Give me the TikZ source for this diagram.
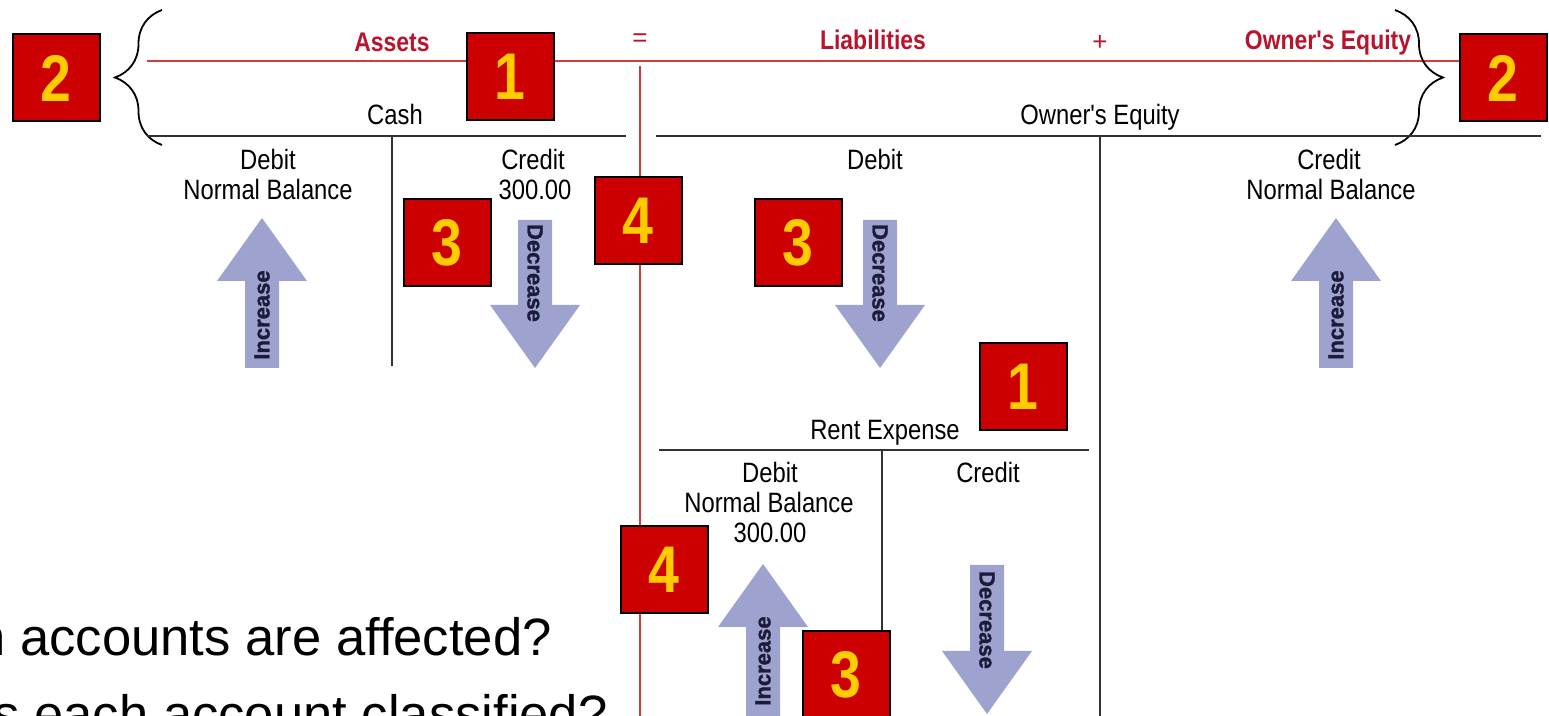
\documentclass[tikz,border=0pt]{standalone}
\usepackage{fontspec}
\setmainfont{Liberation Sans}
\newfontfamily\condfont[FakeStretch=0.85]{Liberation Sans}
\newfontfamily\digitfont[FakeStretch=0.84]{Liberation Sans Bold}
\newfontfamily\heavyfont[FakeBold=1.4]{Liberation Sans Bold}
\usetikzlibrary{decorations.pathreplacing}

\definecolor{boxred}{RGB}{204,0,0}
\definecolor{digityellow}{RGB}{255,204,0}
\definecolor{headred}{RGB}{184,20,45}
\definecolor{linered}{RGB}{212,60,60}
\definecolor{arrowblue}{RGB}{158,162,206}
\definecolor{arrowink}{RGB}{28,28,58}
\definecolor{tgray}{RGB}{50,50,50}

\tikzset{
  numbox/.style={draw=black, line width=1pt, fill=boxred, text=digityellow,
    minimum size=43.5pt, inner sep=0pt,
    font=\digitfont\fontsize{33}{33}\selectfont},
  hdrtext/.style={text=headred, anchor=base, inner sep=0pt,
    font=\condfont\bfseries\fontsize{13.5}{13.5}\selectfont},
  accttext/.style={text=black, anchor=base, inner sep=0pt,
    font=\condfont\fontsize{14}{14}\selectfont},
  arrowtext/.style={text=arrowink, inner sep=0pt,
    font=\heavyfont\fontsize{11}{11}\selectfont},
  question/.style={anchor=base east, inner sep=0pt,
    font=\fontsize{26.3}{26.3}\selectfont},
  redline/.style={draw=linered, line width=1.1pt},
  tline/.style={draw=tgray, line width=1.4pt},
  tstem/.style={draw=tgray, line width=1pt},
  arrowfill/.style={fill=arrowblue},
  bracket/.style={draw=black, line width=0.9pt, decorate},
}

% arrow pointing up: centre x, tip y, tail y
\newcommand{\incarrow}[3]{%
  \fill[arrowfill] (#1,#2) -- (#1+45,#2+63) -- (#1+17,#2+63) -- (#1+17,#3)
    -- (#1-17,#3) -- (#1-17,#2+63) -- (#1-45,#2+63) -- cycle;}
% arrow pointing down: centre x, top y, tip y
\newcommand{\decarrow}[3]{%
  \fill[arrowfill] (#1,#3) -- (#1+45,#3-63) -- (#1+17,#3-63) -- (#1+17,#2)
    -- (#1-17,#2) -- (#1-17,#3-63) -- (#1-45,#3-63) -- cycle;}

\begin{document}
\begin{tikzpicture}[x=0.5pt, y=-0.5pt]
  \useasboundingbox (0,0) rectangle (1549,716);
  %
  % equation line
  \draw[redline] (147,61) -- (1460,61);
  \draw[redline] (640,66) -- (640,716);
  \node[hdrtext] (assets) at (392,52) {Assets};
  \node[text=headred, font=\fontsize{13}{13}\selectfont] (eq) at (640,40) {=};
  \node[hdrtext] (liab) at (873,50) {Liabilities};
  \node[text=headred, font=\fontsize{13}{13}\selectfont] (plus) at (1100,43) {+};
  \node[hdrtext] (equity) at (1328,50) {Owner's Equity};
  %
  % braces
  \draw[bracket, decoration={brace, amplitude=23.5pt}] (162,145) -- (162,10);
  \draw[bracket, decoration={brace, amplitude=24pt}] (1395,10) -- (1395,145);
  %
  % cash account
  \draw[tline] (147,136) -- (626,136);
  \draw[tstem] (392,136) -- (392,366);
  \node[accttext] (cash) at (395,125) {Cash};
  \node[accttext] (cashdr) at (268,170) {Debit};
  \node[accttext] (cashnb) at (268,200) {Normal Balance};
  \node[accttext] (cashcr) at (533,170) {Credit};
  \node[accttext] (cashamt) at (535,200) {300.00};
  %
  % owner's equity account
  \draw[tline] (656,136) -- (1541,136);
  \draw[tstem] (1100,136) -- (1100,716);
  \node[accttext] (oe) at (1100,125) {Owner's Equity};
  \node[accttext] (oedr) at (875,170) {Debit};
  \node[accttext] (oecr) at (1329,170) {Credit};
  \node[accttext] (oenb) at (1331,200) {Normal Balance};
  %
  % rent expense account
  \draw[tline] (659,450) -- (1089,450);
  \draw[tstem] (882,450) -- (882,716);
  \node[accttext] (rent) at (885,440) {Rent Expense};
  \node[accttext] (rentdr) at (770,483) {Debit};
  \node[accttext] (rentnb) at (769,513) {Normal Balance};
  \node[accttext] (rentamt) at (770,543) {300.00};
  \node[accttext] (rentcr) at (988,483) {Credit};
  %
  % arrows
  \incarrow{262}{218}{368}
  \node[arrowtext, rotate=90] (cashinc) at (262,315) {Increase};
  \decarrow{535}{220}{368}
  \node[arrowtext, rotate=-90] (cashdec) at (535,273) {Decrease};
  \decarrow{880}{220}{368}
  \node[arrowtext, rotate=-90] (oedec) at (880,273) {Decrease};
  \incarrow{1336}{218}{368}
  \node[arrowtext, rotate=90] (oeinc) at (1336,315) {Increase};
  \incarrow{763}{564}{716}
  \node[arrowtext, rotate=90] (rentinc) at (763,661) {Increase};
  \decarrow{987}{565}{714}
  \node[arrowtext, rotate=-90] (rentdec) at (987,620) {Decrease};
  %
  % numbered boxes
  \node[numbox] (two1) at (56,78) {2};
  \node[numbox] (one1) at (510,77) {1};
  \node[numbox] (two2) at (1503,78) {2};
  \node[numbox] (three1) at (447,243) {3};
  \node[numbox] (four1) at (638,221) {4};
  \node[numbox] (three2) at (798,243) {3};
  \node[numbox] (one2) at (1023,387) {1};
  \node[numbox] (four2) at (664,570) {4};
  \node[numbox] (three3) at (846,675) {3};
  %
  % questions
  \node[question] (qone) at (552,655) {n accounts are affected?};
  \node[question] (qtwo) at (608,733) {s each account classified?};
  %
\end{tikzpicture}
\end{document}
